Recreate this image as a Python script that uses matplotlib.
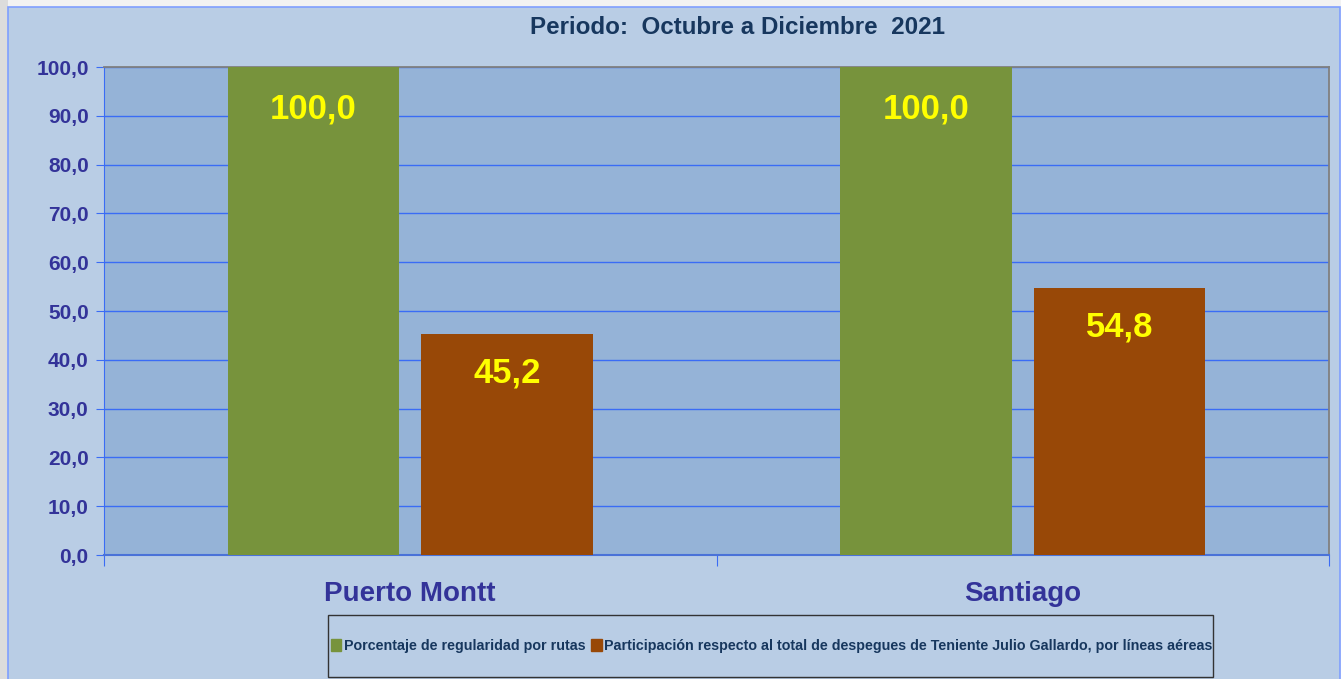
import matplotlib

matplotlib.use("Agg")
import matplotlib.pyplot as plt
import matplotlib.patches as mpatches
import numpy as np

categories = ["Puerto Montt", "Santiago"]
regularidad = [100.0, 100.0]
participacion = [45.2, 54.8]
series_labels = [
    "Porcentaje de regularidad por rutas",
    "Participación respecto al total de despegues de Teniente Julio Gallardo, por líneas aéreas",
]
title = "Periodo:  Octubre a Diciembre  2021"

GREEN = "#77933c"
BROWN = "#984807"
PLOT_BG = "#95b3d7"
CHART_BG = "#b9cde5"
GRID = "#3a6cf5"
TICK_TXT = "#333399"
NAVY = "#17375e"
FONT = "Liberation Sans"

W, H = 1341, 679
fig = plt.figure(figsize=(W / 100, H / 100), dpi=100)
fig.patch.set_facecolor("#f2f2f2")


def fx(px):
    return px / W


def fy(py):
    return 1 - py / H


# chart frame (behind everything)
fig.patches.append(mpatches.Rectangle((0, 0), fx(8), 1, transform=fig.transFigure,
                                      facecolor="#dcdcdc", edgecolor="none", zorder=-5))
fig.patches.append(mpatches.Rectangle((fx(8), fy(690)), fx(1340 - 8), fy(7) - fy(690),
                                      transform=fig.transFigure, facecolor=CHART_BG,
                                      edgecolor="#7f9fff", linewidth=1.2, zorder=-4))

ax = fig.add_axes([fx(104), fy(555), fx(1329 - 104), fy(67) - fy(555)])
ax.set_zorder(2)
ax.set_facecolor(PLOT_BG)

x = np.arange(len(categories)) + 0.5
width = 0.28
off = 0.158
ax.bar(x - off, regularidad, width, color=GREEN, zorder=3)
ax.bar(x + off, participacion, width, color=BROWN, zorder=3)

for xi, v in zip(x - off, regularidad):
    ax.text(xi, v - 8.6, f"{v:.1f}".replace(".", ","), ha="center", va="center",
            color="#ffff00", fontsize=25, fontweight="bold", family=FONT, zorder=4)
for xi, v in zip(x + off, participacion):
    ax.text(xi, v - 8.0, f"{v:.1f}".replace(".", ","), ha="center", va="center",
            color="#ffff00", fontsize=25, fontweight="bold", family=FONT, zorder=4)

ax.set_xlim(0, len(categories))
ax.set_ylim(0, 100)
yt = np.arange(0, 101, 10)
ax.set_yticks(yt)
ax.set_yticklabels([f"{v:.1f}".replace(".", ",") for v in yt], color=TICK_TXT,
                   fontsize=15, fontweight="bold", family=FONT)
ax.yaxis.grid(True, color=GRID, linewidth=1.0, zorder=1)
ax.set_axisbelow(True)

ax.set_xticks(np.arange(len(categories) + 1))
ax.set_xticklabels([])
ax.set_xticks(x, minor=True)
ax.set_xticklabels(categories, minor=True, color=TICK_TXT, fontsize=20,
                   fontweight="bold", family=FONT)
ax.tick_params(axis="x", which="minor", length=0, pad=19)
ax.tick_params(axis="x", which="major", length=8, color=GRID, direction="out")
ax.tick_params(axis="y", length=6, color=GRID, direction="out", pad=5)

ax.spines["left"].set_color(GRID)
ax.spines["bottom"].set_color("#4a72d8")
ax.spines["bottom"].set_linewidth(1.5)
ax.spines["top"].set_color("#808080")
ax.spines["right"].set_color("#808080")
ax.spines["top"].set_linewidth(1.3)
ax.spines["right"].set_linewidth(1.3)

fig.text(fx(737), fy(28), title, ha="center", va="center", color=NAVY,
         fontsize=17.4, fontweight="bold", family=FONT)

# legend box
fig.patches.append(mpatches.Rectangle((fx(328), fy(677)), fx(1213 - 328), fy(615) - fy(677),
                                      transform=fig.transFigure, facecolor=CHART_BG,
                                      edgecolor="#333333", linewidth=1.0, zorder=1))
handles = [mpatches.Patch(color=GREEN), mpatches.Patch(color=BROWN)]
leg = fig.legend(handles, series_labels, loc="center", ncol=2,
                 bbox_to_anchor=(fx(772), fy(646)), frameon=False,
                 handlelength=0.7, handleheight=0.9, handletextpad=0.2,
                 columnspacing=0.4,
                 prop={"family": FONT, "weight": "bold", "size": 10.3})
leg.set_zorder(3)
for t in leg.get_texts():
    t.set_color(NAVY)

fig.savefig("out.png", dpi=100, facecolor=fig.get_facecolor())
